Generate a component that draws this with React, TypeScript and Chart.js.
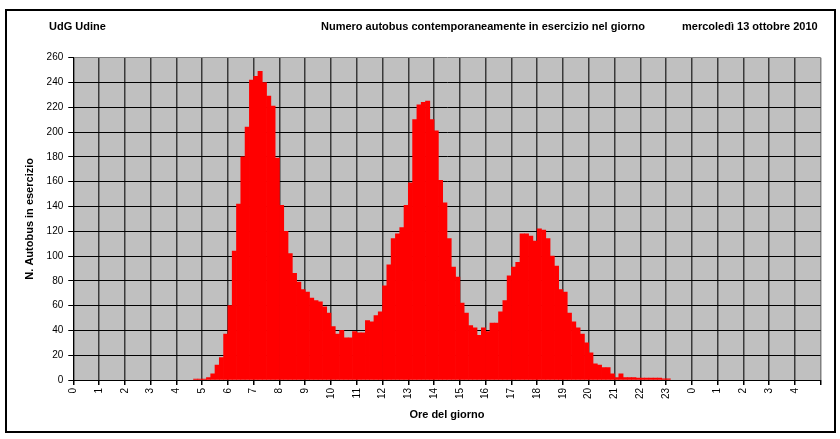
import React, { useEffect, useRef } from "react";
import { Chart, registerables } from "chart.js";

Chart.register(...registerables);

// Hour labels along the bottom axis (the service day runs past midnight)
const hourTickLabels = [
  "0", "1", "2", "3", "4", "5", "6", "7", "8", "9", "10", "11", "12", "13", "14", "15",
  "16", "17", "18", "19", "20", "21", "22", "23", "0", "1", "2", "3", "4",
];

// First 10-minute slot with buses in service: 04:40
const firstSlotHour = 4 + 40 / 60;
const slotMinutes = 10;

// Buses in service in each 10-minute slot, from 04:40 to 23:00
const busCounts = [
  0.7, 0.7, 0.7, 2, 5, 12, 18, 37, // 04:40 - 05:50
  60, 104, 142, 180, 204, 242, // 06:00 - 06:50
  245, 249, 240, 229, 221, 179, // 07:00 - 07:50
  141, 120, 102, 86, 79, 73, // 08:00 - 08:50
  71, 66, 64, 63, 59, 54, // 09:00 - 09:50
  43, 37, 40, 34, 34, 39, // 10:00 - 10:50
  38, 38, 48, 47, 52, 55, // 11:00 - 11:50
  76, 93, 114, 118, 123, 141, // 12:00 - 12:50
  159, 210, 222, 224, 225, 210, // 13:00 - 13:50
  201, 161, 143, 114, 91, 83, // 14:00 - 14:50
  62, 54, 44, 42, 36, 42, // 15:00 - 15:50
  39, 46, 46, 55, 64, 84, // 16:00 - 16:50
  91, 95, 118, 118, 116, 112, // 17:00 - 17:50
  122, 121, 114, 100, 92, 73, // 18:00 - 18:50
  71, 54, 47, 42, 37, 30, // 19:00 - 19:50
  22, 13, 12, 10, 10, 5, // 20:00 - 20:50
  2, 5, 2, 2, 2, 1.5, // 21:00 - 21:50
  1.5, 1.5, 1.5, 1.5, 1.5, 1, // 22:00 - 22:50
  1, // 23:00
];

const FONT = "'Liberation Sans', Arial, sans-serif";

const plotBackground = {
  id: "plotBackground",
  beforeDraw(chart: Chart) {
    const { ctx, chartArea } = chart;
    ctx.save();
    ctx.fillStyle = "#c0c0c0";
    ctx.fillRect(chartArea.left, chartArea.top, chartArea.right - chartArea.left, chartArea.bottom - chartArea.top);
    ctx.restore();
  },
};

export default function App() {
  const canvasRef = useRef<HTMLCanvasElement | null>(null);

  useEffect(() => {
    if (!canvasRef.current) return;
    const points = busCounts.map((v, i) => ({
      x: firstSlotHour + ((i + 0.5) * slotMinutes) / 60,
      y: v,
    }));

    const chart = new Chart(canvasRef.current, {
      type: "bar",
      data: {
        datasets: [
          {
            label: "Autobus in esercizio",
            data: points,
            backgroundColor: "#ff0000",
            borderWidth: 0,
            barPercentage: 1,
            categoryPercentage: 1,
          },
        ],
      },
      plugins: [plotBackground],
      options: {
        animation: false,
        responsive: false,
        devicePixelRatio: 1,
        layout: { padding: { left: 15, top: 57.7, right: 19.3, bottom: 10 } },
        plugins: {
          legend: { display: false },
          tooltip: { enabled: false },
        },
        scales: {
          x: {
            type: "linear",
            min: 0,
            max: 29,
            offset: false,
            afterFit: (scale: any) => {
              scale.height = 49;
            },
            grid: {
              offset: false,
              color: (ctx: any) => (ctx.tick && ctx.tick.value === 29 ? "#808080" : "#3a3a3a"),
              lineWidth: 1.5,
              tickColor: "#000",
              tickLength: 5,
            },
            border: { color: "#000", width: 1 },
            ticks: {
              stepSize: 1,
              autoSkip: false,
              maxRotation: 90,
              minRotation: 90,
              padding: 3,
              color: "#000",
              font: { family: FONT, size: 10 },
              callback: (value: any) => hourTickLabels[value] ?? "",
            },
            title: {
              display: true,
              text: "Ore del giorno",
              color: "#000",
              font: { family: FONT, size: 11, weight: "bold" },
              padding: { top: 0, bottom: 7.9 },
            },
          },
          y: {
            min: 0,
            max: 260,
            afterFit: (scale: any) => {
              scale.width = 58.25;
            },
            grid: {
              color: (ctx: any) => (ctx.tick && ctx.tick.value === 260 ? "#808080" : "#000"),
              lineWidth: 1,
              tickColor: "#000",
              tickLength: 5,
            },
            border: { color: "#000", width: 1 },
            ticks: {
              stepSize: 20,
              padding: 5,
              color: "#000",
              font: { family: FONT, size: 10 },
            },
            title: {
              display: true,
              text: "N. Autobus in esercizio",
              color: "#000",
              font: { family: FONT, size: 11, weight: "bold" },
              padding: { top: 8.4, bottom: 0 },
            },
          },
        },
      },
    });
    return () => chart.destroy();
  }, []);

  const header: React.CSSProperties = {
    position: "absolute",
    top: 20,
    font: `bold 11px ${FONT}`,
    lineHeight: "13px",
    color: "#000",
    whiteSpace: "nowrap",
  };

  return (
    <div style={{ position: "absolute", left: 0, top: 0, width: 840, height: 439, background: "#fff", overflow: "hidden" }}>
      <div
        style={{
          position: "absolute",
          left: 5,
          top: 9,
          width: 827,
          height: 420,
          border: "2px solid #000",
        }}
      />
      <canvas ref={canvasRef} width={840} height={439} style={{ position: "absolute", left: 0, top: 0, width: 840, height: 439 }} />
      <span style={{ ...header, left: 49 }}>UdG Udine</span>
      <span style={{ ...header, left: 321 }}>Numero autobus contemporaneamente in esercizio nel giorno</span>
      <span style={{ ...header, left: 682 }}>mercoledì 13 ottobre 2010</span>
    </div>
  );
}
